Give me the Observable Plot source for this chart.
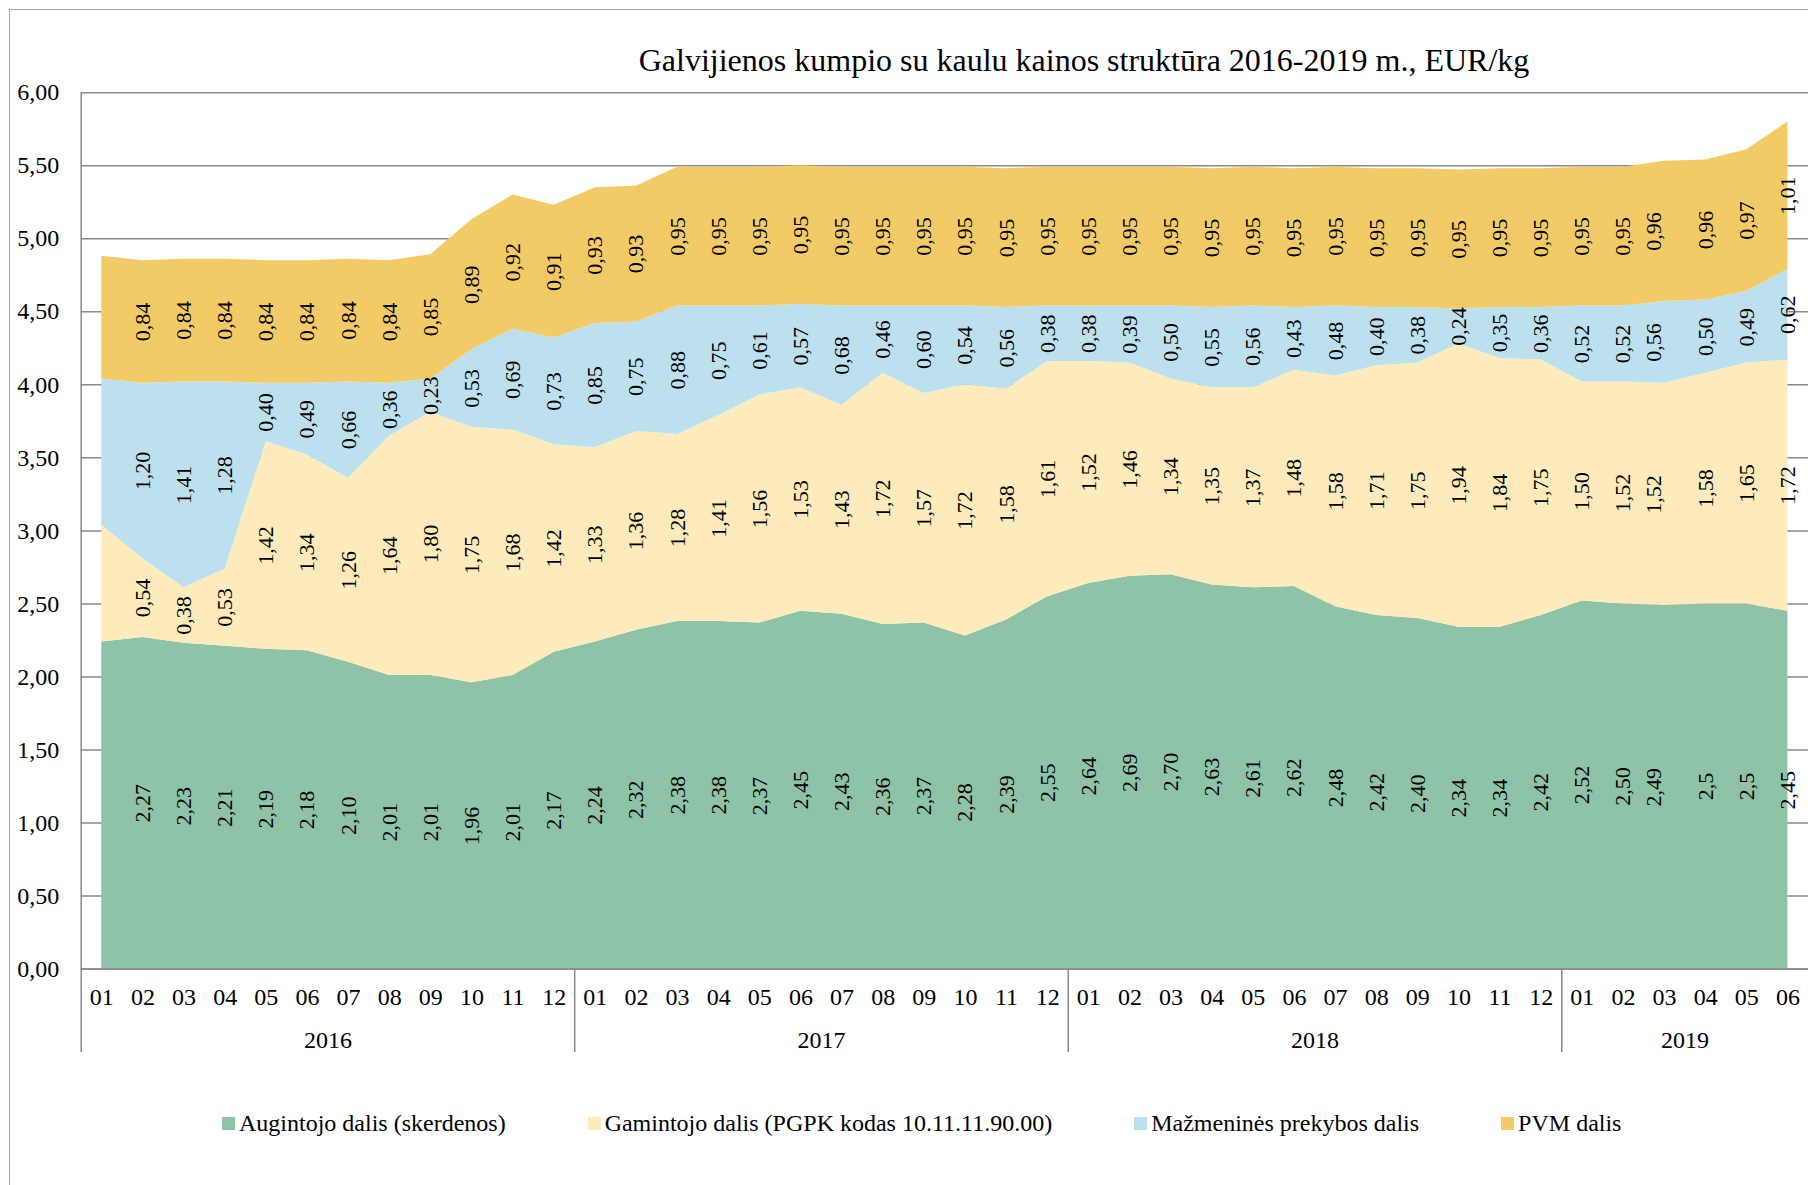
<!DOCTYPE html>
<html>
<head>
<meta charset="utf-8">
<script src="https://cdn.jsdelivr.net/npm/d3@7"></script>
<script src="https://cdn.jsdelivr.net/npm/@observablehq/plot@0.6"></script>
<style>
  body { margin: 0; background: #fff; }
  #wrap { position: relative; width: 1808px; height: 1185px; overflow: hidden;
          font-family: "Liberation Serif", "Times New Roman", serif; color: #000; }
  #frame { position: absolute; left: 9px; top: 9px; width: 1840px; height: 1220px;
           border: 1.5px solid #a6a6a6; box-sizing: border-box; }
  #title { position: absolute; top: 44px; left: 1084px; transform: translateX(-50%);
           white-space: nowrap; font-size: 32px; line-height: 32px; }
  #chart { position: absolute; left: 0; top: 0; }
  #legend { position: absolute; top: 1111px; left: 222px; display: flex; gap: 82px;
            font-size: 24px; line-height: 24px; white-space: nowrap; }
  .item { display: flex; align-items: center; }
  .sw { width: 13px; height: 13px; margin-right: 4px; display: inline-block; }
</style>
</head>
<body>
<div id="wrap">
  <div id="frame"></div>
  <div id="title">Galvijienos kumpio su kaulu kainos struktūra 2016-2019 m., EUR/kg</div>
  <div id="chart"></div>
  <div id="legend"></div>
</div>
<script>
// ---- data (as printed in the chart, Lithuanian decimal comma) ----
const years = ["2016", "2017", "2018", "2019"];
const monthsPerYear = [12, 12, 12, 6];
const monthLabels = ["01","02","03","04","05","06","07","08","09","10","11","12"];

const seriesNames = [
  "Augintojo dalis (skerdenos)",
  "Gamintojo dalis (PGPK kodas 10.11.11.90.00)",
  "Mažmeninės prekybos dalis",
  "PVM dalis"
];
const seriesColors = ["#8ec3a7", "#fdebbb", "#bde0ee", "#f3cb66"];

const augintojo = [
  "2,24","2,27","2,23","2,21","2,19","2,18","2,10","2,01","2,01","1,96","2,01","2,17",
  "2,24","2,32","2,38","2,38","2,37","2,45","2,43","2,36","2,37","2,28","2,39","2,55",
  "2,64","2,69","2,70","2,63","2,61","2,62","2,48","2,42","2,40","2,34","2,34","2,42",
  "2,52","2,50","2,49","2,5","2,5","2,45"
];
const gamintojo = [
  "0,80","0,54","0,38","0,53","1,42","1,34","1,26","1,64","1,80","1,75","1,68","1,42",
  "1,33","1,36","1,28","1,41","1,56","1,53","1,43","1,72","1,57","1,72","1,58","1,61",
  "1,52","1,46","1,34","1,35","1,37","1,48","1,58","1,71","1,75","1,94","1,84","1,75",
  "1,50","1,52","1,52","1,58","1,65","1,72"
];
const mazmenine = [
  "1,00","1,20","1,41","1,28","0,40","0,49","0,66","0,36","0,23","0,53","0,69","0,73",
  "0,85","0,75","0,88","0,75","0,61","0,57","0,68","0,46","0,60","0,54","0,56","0,38",
  "0,38","0,39","0,50","0,55","0,56","0,43","0,48","0,40","0,38","0,24","0,35","0,36",
  "0,52","0,52","0,56","0,50","0,49","0,62"
];
const pvm = [
  "0,84","0,84","0,84","0,84","0,84","0,84","0,84","0,84","0,85","0,89","0,92","0,91",
  "0,93","0,93","0,95","0,95","0,95","0,95","0,95","0,95","0,95","0,95","0,95","0,95",
  "0,95","0,95","0,95","0,95","0,95","0,95","0,95","0,95","0,95","0,95","0,95","0,95",
  "0,95","0,95","0,96","0,96","0,97","1,01"
];
const yTickValues = [0, 0.5, 1, 1.5, 2, 2.5, 3, 3.5, 4, 4.5, 5, 5.5, 6];

// ---- build tables ----
const periods = [];
years.forEach((y, yi) => {
  for (let m = 0; m < monthsPerYear[yi]; m++) periods.push({year: y, month: monthLabels[m]});
});
const n = periods.length;
const num = s => +s.replace(",", ".");
const seriesData = [augintojo, gamintojo, mazmenine, pvm];

const rows = [];
const labelRows = [];
const base = new Array(n).fill(0);
seriesData.forEach((arr, si) => {
  arr.forEach((s, i) => {
    const v = num(s);
    rows.push({i, series: seriesNames[si], value: v});
    labelRows.push({i, label: s, mid: base[i] + v / 2, year: periods[i].year, month: periods[i].month});
    base[i] += v;
  });
});
// the first month carries no labels in the original; 2019-03 labels are nudged left there
const shownLabels = labelRows.filter(d => d.i > 0 && !(d.year === "2019" && d.month === "03"));
const nudgedLabels = labelRows.filter(d => d.year === "2019" && d.month === "03");

// year groups: boundaries and centres in index units
const yearStart = [];
let acc = 0;
monthsPerYear.forEach(c => { yearStart.push(acc); acc += c; });
const boundaries = yearStart.map(s => s - 0.5);
const yearMids = yearStart.map((s, k) => s + (monthsPerYear[k] - 1) / 2);

const gray = "#8a8a8a";
const chart = Plot.plot({
  width: 1808,
  height: 1185,
  marginLeft: 80.7,
  marginRight: 0,
  marginTop: 92.2,
  marginBottom: 216.4,
  x: {type: "linear", domain: [-0.5, n - 0.5]},
  y: {domain: [0, 6]},
  color: {domain: seriesNames, range: seriesColors},
  style: {fontFamily: "'Liberation Serif', 'Times New Roman', serif", color: "#000", background: "transparent", overflow: "visible"},
  marks: [
    Plot.gridY(yTickValues, {stroke: gray, strokeOpacity: 1, strokeWidth: 1.5}),
    Plot.areaY(rows, {x: "i", y: "value", z: "series", fill: "series", curve: "linear"}),
    Plot.ruleY([0], {stroke: gray, strokeWidth: 1.6}),
    // vertical value axis line (continues down as the first year separator)
    Plot.ruleX([boundaries[0]], {y1: 6, y2: 0, stroke: gray, strokeWidth: 1.5}),
    // year separators below the category axis
    Plot.ruleX(boundaries, {y1: 0, y2: -0.571, stroke: gray, strokeWidth: 1.5}),
    Plot.axisY(yTickValues, {tickSize: 0, tickPadding: 22, fontSize: 24, label: null,
      tickFormat: d => d.toFixed(2).replace(".", ",")}),
    Plot.axisX(d3.range(n), {tickSize: 0, tickPadding: 19, fontSize: 24, label: null,
      tickFormat: i => periods[i].month}),
    Plot.axisX(yearMids, {tickSize: 0, tickPadding: 62, fontSize: 24, label: null,
      tickFormat: (d, k) => years[k]}),
    Plot.text(shownLabels, {x: "i", y: "mid", text: "label", rotate: -90, fontSize: 22, fill: "#000"}),
    Plot.text(nudgedLabels, {x: "i", y: "mid", text: "label", rotate: -90, fontSize: 22, fill: "#000", dx: -11})
  ]
});
document.getElementById("chart").appendChild(chart);

// legend
const legend = document.getElementById("legend");
seriesNames.forEach((name, k) => {
  const it = document.createElement("div");
  it.className = "item";
  const sw = document.createElement("span");
  sw.className = "sw";
  sw.style.background = seriesColors[k];
  it.appendChild(sw);
  it.appendChild(document.createTextNode(name));
  legend.appendChild(it);
});
</script>
</body>
</html>
